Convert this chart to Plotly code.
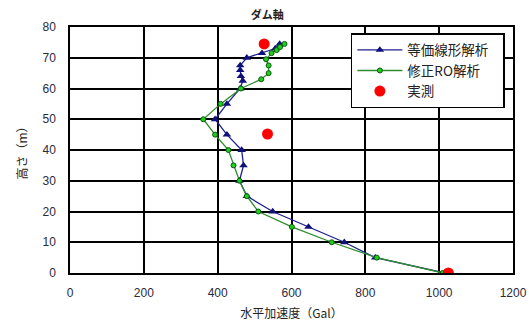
import plotly.graph_objects as go

# Data (height m, horizontal acceleration Gal)
eq_height = [0, 5, 10, 15, 20, 25, 30, 35, 40, 45, 50, 55, 60, 62.5, 64, 66, 67.5, 70, 71.5, 73, 74.5]
eq_accel = [1015, 827, 743, 646, 549, 479, 459, 470, 465, 425, 393, 425, 461, 468, 463, 461, 461, 479, 520, 556, 568]

ro_height = [0, 5, 10, 15, 20, 25, 30, 35, 40, 45, 50, 55, 60, 63, 65, 67.5, 69.5, 71.5, 72.5, 73.5, 74.5]
ro_accel = [1010, 831, 709, 601, 510, 479, 459, 443, 429, 393, 361, 408, 463, 518, 538, 538, 531, 546, 560, 569, 581]

obs_height = [74.5, 45.2, 0]
obs_accel = [526, 535, 1025]

x_ticks = [0, 200, 400, 600, 800, 1000, 1200]
y_ticks = [0, 10, 20, 30, 40, 50, 60, 70, 80]

FONT = "Liberation Sans, Arial, Noto Sans CJK JP"
PAD = "\u00a0\u00a0\u00a0"

fig = go.Figure()
fig.add_trace(go.Scatter(
    x=eq_accel, y=eq_height, mode="lines+markers", name="等価線形解析" + PAD,
    line=dict(color="#1f1f8f", width=1.3),
    marker=dict(symbol="triangle-up", size=7.5, color="#10107a"),
))
fig.add_trace(go.Scatter(
    x=ro_accel, y=ro_height, mode="lines+markers", name="修正RO解析",
    line=dict(color="#2e8b2e", width=1.3),
    marker=dict(symbol="circle", size=5, color="#22cc22", line=dict(color="#0a5a0a", width=1)),
))
fig.add_trace(go.Scatter(
    x=obs_accel, y=obs_height, mode="markers", name="実測",
    marker=dict(symbol="circle", size=11, color="#ff0000"),
))

fig.update_layout(
    width=529, height=322,
    margin=dict(l=70, r=16, t=27, b=49),
    paper_bgcolor="white", plot_bgcolor="white",
    font=dict(family=FONT, size=11, color="#222"),
    title=dict(text="<b>ダム軸</b>", x=0.505, xanchor="center", y=0.953, yanchor="middle",
               font=dict(family="Noto Sans CJK JP", size=11, color="#222")),
    showlegend=True,
    legend=dict(x=0.634, y=0.975, xanchor="left", yanchor="top",
                bgcolor="white", bordercolor="black", borderwidth=1.5,
                font=dict(family="Noto Sans CJK JP, " + FONT, size=13.5, color="#222"),
                itemwidth=45),
)
fig.update_xaxes(
    range=[0, 1200], tickvals=x_ticks, ticktext=[str(v) for v in x_ticks],
    showgrid=True, gridcolor="black", gridwidth=1.5,
    showline=True, linecolor="black", linewidth=1.5, mirror=True,
    zeroline=False, ticks="", automargin=False, ticklabelstandoff=8,
    tickfont=dict(family=FONT, size=12, color="#2a2a3a"),
    title=dict(text="水平加速度（Gal）", standoff=10,
               font=dict(family="Noto Sans CJK JP", size=12, color="#222")),
)
fig.update_yaxes(
    range=[0, 80], tickvals=y_ticks, ticktext=[str(v) for v in y_ticks],
    showgrid=True, gridcolor="black", gridwidth=1.5,
    showline=True, linecolor="black", linewidth=1.5, mirror=True,
    zeroline=False, ticks="", automargin=False, ticklabelstandoff=10,
    tickfont=dict(family=FONT, size=12, color="#2a2a3a"),
    title=dict(text="高さ（m）", standoff=12,
               font=dict(family="Noto Sans CJK JP", size=12, color="#222")),
)

fig.write_html("out.html", config={"displayModeBar": False},
               post_script="document.body.style.margin='0px';")
